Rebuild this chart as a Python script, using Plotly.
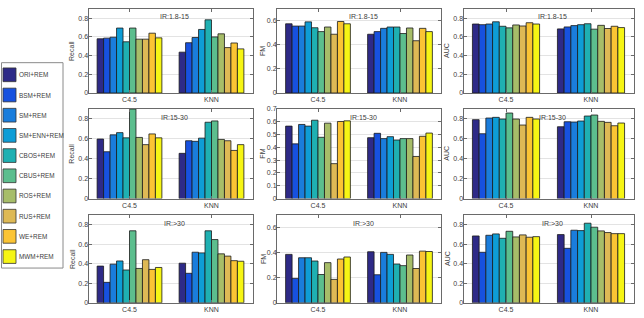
import plotly.graph_objects as go

methods = ["ORI+REM", "BSM+REM", "SM+REM", "SM+ENN+REM", "CBOS+REM",
           "CBUS+REM", "ROS+REM", "RUS+REM", "WE+REM", "MWM+REM"]
colors = ["#2e2a87", "#1751df", "#1a7ddc", "#0e9dd6", "#1fb0b2",
          "#5cbe8e", "#a7bd69", "#deb955", "#fbc434", "#f6f514"]
classifiers = ["C4.5", "KNN"]
metrics = ["Recall", "FM", "AUC"]
ir_labels = ["IR:1.8-15", "IR:15-30", "IR:>30"]

# Recall
recall_ir1_c45 = [0.58, 0.587, 0.597, 0.695, 0.548, 0.695, 0.576, 0.576, 0.64, 0.59]
recall_ir1_knn = [0.437, 0.538, 0.594, 0.68, 0.783, 0.60, 0.633, 0.486, 0.535, 0.472]
recall_ir2_c45 = [0.596, 0.469, 0.638, 0.66, 0.608, 0.896, 0.612, 0.54, 0.647, 0.608]
recall_ir2_knn = [0.453, 0.579, 0.573, 0.605, 0.764, 0.777, 0.592, 0.579, 0.482, 0.54]
recall_ir3_c45 = [0.377, 0.21, 0.397, 0.43, 0.337, 0.74, 0.353, 0.443, 0.343, 0.363]
recall_ir3_knn = [0.407, 0.303, 0.52, 0.513, 0.74, 0.65, 0.503, 0.48, 0.433, 0.427]
# FM
fm_ir1_c45 = [0.576, 0.557, 0.557, 0.592, 0.543, 0.511, 0.549, 0.489, 0.595, 0.576]
fm_ir1_knn = [0.489, 0.511, 0.538, 0.549, 0.549, 0.495, 0.541, 0.435, 0.538, 0.511]
fm_ir2_c45 = [0.564, 0.426, 0.577, 0.564, 0.61, 0.477, 0.587, 0.272, 0.60, 0.605]
fm_ir2_knn = [0.474, 0.508, 0.467, 0.482, 0.456, 0.467, 0.467, 0.328, 0.485, 0.51]
fm_ir3_c45 = [0.387, 0.195, 0.36, 0.36, 0.334, 0.226, 0.321, 0.187, 0.35, 0.366]
fm_ir3_knn = [0.408, 0.224, 0.403, 0.387, 0.31, 0.297, 0.382, 0.274, 0.413, 0.41]
# AUC
auc_ir1_c45 = [0.738, 0.731, 0.738, 0.762, 0.714, 0.697, 0.728, 0.717, 0.752, 0.738]
auc_ir1_knn = [0.686, 0.707, 0.721, 0.731, 0.741, 0.683, 0.724, 0.69, 0.714, 0.70]
auc_ir2_c45 = [0.79, 0.649, 0.806, 0.813, 0.796, 0.856, 0.796, 0.736, 0.813, 0.796]
auc_ir2_knn = [0.719, 0.769, 0.766, 0.776, 0.826, 0.836, 0.773, 0.763, 0.729, 0.756]
auc_ir3_c45 = [0.687, 0.519, 0.694, 0.708, 0.663, 0.735, 0.677, 0.698, 0.674, 0.68]
auc_ir3_knn = [0.701, 0.56, 0.746, 0.742, 0.818, 0.777, 0.739, 0.722, 0.711, 0.711]

panels = [
    [(recall_ir1_c45, recall_ir1_knn), (fm_ir1_c45, fm_ir1_knn), (auc_ir1_c45, auc_ir1_knn)],
    [(recall_ir2_c45, recall_ir2_knn), (fm_ir2_c45, fm_ir2_knn), (auc_ir2_c45, auc_ir2_knn)],
    [(recall_ir3_c45, recall_ir3_knn), (fm_ir3_c45, fm_ir3_knn), (auc_ir3_c45, auc_ir3_knn)],
]

W, H = 644, 318
cols_px = [(88.5, 252.5), (277, 441), (463.5, 633.5)]
rows_px = [(5, 91), (107, 199), (216, 305.5)]
ylab_x = [72, 263, 447]
yranges = [0.9, 0.7, 0.9]

FONT = "Liberation Sans, Arial, sans-serif"
TXT = "#404040"
AX = "#6a6a6a"

fig = go.Figure()
layout = {}
annotations = []
shapes = []

for r in range(3):
    for c in range(3):
        k = r * 3 + c + 1
        xn = "x" if k == 1 else f"x{k}"
        yn = "y" if k == 1 else f"y{k}"
        c45, knn = panels[r][c]
        for i, m in enumerate(methods):
            fig.add_trace(go.Bar(
                x=classifiers, y=[c45[i], knn[i]], name=m,
                marker=dict(color=colors[i], line=dict(color="#1a1a1a", width=0.8)),
                xaxis=xn, yaxis=yn, showlegend=False, offsetgroup=str(i)))
        x0, x1 = cols_px[c]
        y0, y1 = rows_px[r]
        dtick = 0.1 if (r == 1 and c == 1) else 0.2
        top = yranges[c]
        layout["xaxis" if k == 1 else f"xaxis{k}"] = dict(
            domain=[x0 / W, x1 / W], anchor=yn, type="category",
            showline=True, linecolor=AX, linewidth=1, mirror="ticks",
            ticks="inside", ticklen=3, tickcolor=AX,
            tickfont=dict(size=7, color=TXT, family=FONT),
            showgrid=False, zeroline=False, fixedrange=True)
        layout["yaxis" if k == 1 else f"yaxis{k}"] = dict(
            domain=[1 - y1 / H, 1 - y0 / H], anchor=xn,
            range=[0, top], tick0=0, dtick=dtick,
            showline=True, linecolor=AX, linewidth=1, mirror="ticks",
            ticks="inside", ticklen=3, tickcolor=AX, ticklabelstandoff=-2,
            tickfont=dict(size=7, color=TXT, family=FONT),
            showgrid=True, gridcolor="#e3e3e3", gridwidth=1,
            zeroline=False, fixedrange=True)
        annotations.append(dict(
            text=ir_labels[r], xref=f"{xn} domain", yref=f"{yn} domain",
            x=0.525, y=0.905, xanchor="center", yanchor="middle",
            showarrow=False, font=dict(size=7, color=TXT, family=FONT)))
        annotations.append(dict(
            text=metrics[c], xref="paper", yref="paper",
            x=ylab_x[c] / W, y=1 - (y0 + y1) / 2 / H, textangle=-90,
            xanchor="center", yanchor="middle", showarrow=False,
            font=dict(size=7, color=TXT, family=FONT)))

# custom legend
shapes.append(dict(type="rect", xref="paper", yref="paper",
                   x0=1.5 / W, x1=63 / W, y0=1 - 270 / H, y1=1 - 60 / H,
                   line=dict(color="#8a8a8a", width=1), fillcolor="white"))
for i, m in enumerate(methods):
    cy = 72.4 + i * 20.65
    shapes.append(dict(type="rect", xref="paper", yref="paper",
                       x0=3 / W, x1=16 / W, y0=1 - (cy + 7) / H, y1=1 - (cy - 7) / H,
                       line=dict(color="#333333", width=0.8), fillcolor=colors[i]))
    annotations.append(dict(text=m, xref="paper", yref="paper",
                            x=16.5 / W, y=1 - cy / H, xanchor="left", yanchor="middle",
                            showarrow=False, font=dict(size=6.4, color=TXT, family=FONT)))

fig.update_layout(
    width=W, height=H, margin=dict(l=0, r=0, t=0, b=0),
    paper_bgcolor="white", plot_bgcolor="white",
    barmode="group", bargap=0.21, bargroupgap=0,
    annotations=annotations, shapes=shapes,
    font=dict(family=FONT, size=7, color=TXT),
    **layout)

fig.write_html("out.html")
